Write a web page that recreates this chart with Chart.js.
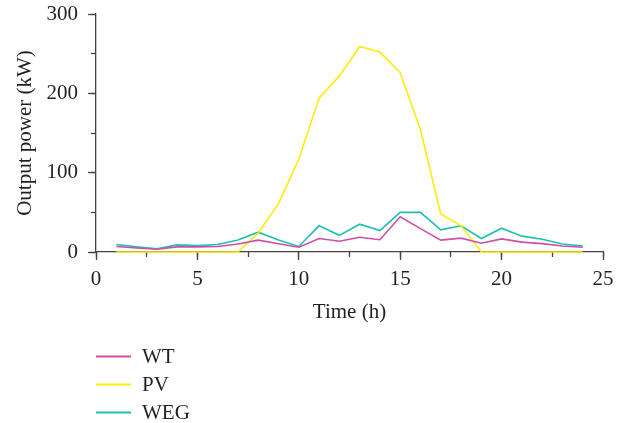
<!DOCTYPE html>
<html>
<head>
<meta charset="utf-8">
<script src="https://cdn.jsdelivr.net/npm/chart.js@4.4.1/dist/chart.umd.min.js"></script>
<style>
  html, body { margin: 0; padding: 0; background: #ffffff; }
  #wrap { width: 631px; height: 423px; position: relative; }
</style>
</head>
<body>
<div id="wrap"><canvas id="chart" width="631" height="423"></canvas></div>
<script>
// Hourly output of each source over one day
const hours = [1, 2, 3, 4, 5, 6, 7, 8, 9, 10, 11, 12, 13, 14, 15, 16, 17, 18, 19, 20, 21, 22, 23, 24];
const wtPower  = [7, 5, 3.5, 6.5, 6.5, 7, 10, 15, 10.5, 6, 17, 13.5, 18.5, 15.5, 44.5, 29.5, 15, 17.5, 11, 16.5, 12.5, 10.5, 7.5, 6];
const pvPower  = [0, 0, 0, 0, 0, 0, 0, 24, 61, 117, 194, 222, 259, 252, 226, 154, 48, 33, 0, 0, 0, 0, 0, 0];
const wegPower = [9.5, 6.5, 4, 9, 8, 9.5, 15, 25, 15, 7, 33, 21, 35, 27, 50, 50, 28, 33, 17, 30, 20, 16, 10, 7.5];
const seriesNames = ['WT', 'PV', 'WEG'];
const seriesColors = ['#CC4FAA', '#FFEB0A', '#1DBFB2'];
const xTickValues = [0, 5, 10, 15, 20, 25];
const yTickValues = [0, 100, 200, 300];

const FONT = { family: '"Liberation Serif", "Times New Roman", serif', size: 21 };
const AXIS = '#444444';
const TEXT = '#231F20';

const toPoints = vals => hours.map((h, i) => ({ x: h, y: vals[i] }));

// Vertical legend drawn beneath the axes
const stackedLegend = {
  id: 'stackedLegend',
  afterDraw(chart) {
    const ctx = chart.ctx;
    ctx.save();
    chart.data.datasets.forEach((ds, i) => {
      const y = 356.5 + i * 28;
      ctx.strokeStyle = ds.borderColor;
      ctx.lineWidth = 1.8;
      ctx.beginPath();
      ctx.moveTo(96, y);
      ctx.lineTo(131, y);
      ctx.stroke();
      ctx.fillStyle = TEXT;
      ctx.font = FONT.size + 'px ' + FONT.family;
      ctx.textBaseline = 'middle';
      ctx.textAlign = 'left';
      ctx.fillText(ds.label, 142, y + 1);
    });
    ctx.restore();
  }
};

// Keep the plot box fixed: no extra room reserved for edge labels
const noEdgePadding = s => {
  s.paddingTop = 0; s.paddingBottom = 0; s.paddingLeft = 0; s.paddingRight = 0;
};

new Chart(document.getElementById('chart'), {
  type: 'line',
  data: {
    datasets: [wtPower, pvPower, wegPower].map((vals, i) => ({
      label: seriesNames[i],
      data: toPoints(vals),
      borderColor: seriesColors[i],
      backgroundColor: seriesColors[i],
      borderWidth: 1.6,
      pointRadius: 0,
      tension: 0,
      fill: false,
      clip: false
    }))
  },
  options: {
    responsive: false,
    animation: false,
    events: [],
    layout: { padding: { left: 0, top: 14, right: 28, bottom: 98 } },
    plugins: { legend: { display: false }, tooltip: { enabled: false } },
    scales: {
      x: {
        type: 'linear',
        position: 'bottom',
        min: 0,
        max: 25,
        afterBuildTicks: s => { s.ticks = xTickValues.map(v => ({ value: v })); },
        afterFit: s => { s.height = 73; noEdgePadding(s); },
        ticks: { font: FONT, color: TEXT, padding: 7, maxRotation: 0, autoSkip: false },
        grid: { drawOnChartArea: false, drawTicks: true, tickLength: 8, color: AXIS, tickWidth: 1.3 },
        border: { display: true, color: AXIS, width: 1.3 },
        title: { display: true, text: 'Time (h)', font: FONT, color: TEXT, padding: { top: 0, bottom: 0 } }
      },
      xMinor: {
        type: 'linear',
        position: { y: 0 },
        min: 0,
        max: 25,
        ticks: { display: false, stepSize: 2.5 },
        grid: { drawOnChartArea: false, drawTicks: true, tickLength: 5, color: AXIS, tickWidth: 1.3 },
        border: { display: false }
      },
      y: {
        type: 'linear',
        position: 'left',
        min: 0,
        max: 300,
        afterBuildTicks: s => { s.ticks = yTickValues.map(v => ({ value: v })); },
        afterFit: s => { s.width = 96; noEdgePadding(s); },
        ticks: { font: FONT, color: TEXT, padding: 10 },
        grid: { drawOnChartArea: false, drawTicks: true, tickLength: 8, color: AXIS, tickWidth: 1.3 },
        border: { display: true, color: AXIS, width: 1.3 },
        title: { display: true, text: 'Output power (kW)', font: FONT, color: TEXT, padding: { top: 13, bottom: 0 } }
      },
      yMinor: {
        type: 'linear',
        position: { x: 0 },
        min: 0,
        max: 300,
        ticks: { display: false, stepSize: 50 },
        grid: { drawOnChartArea: false, drawTicks: true, tickLength: 5, color: AXIS, tickWidth: 1.3 },
        border: { display: false }
      }
    }
  },
  plugins: [stackedLegend]
});
</script>
</body>
</html>
